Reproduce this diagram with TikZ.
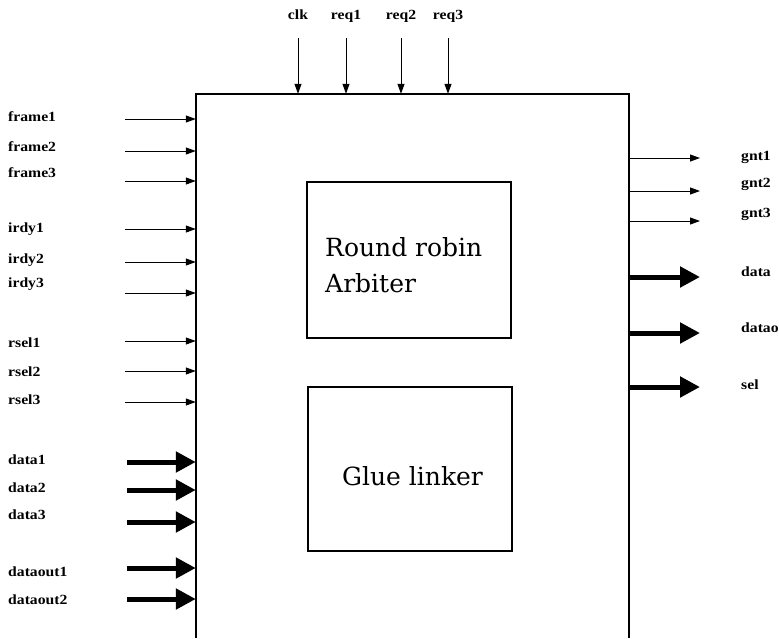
\documentclass[tikz,border=0pt]{standalone}
\usepackage{fontspec}
\setmainfont{Liberation Serif}
\newfontfamily\lblfont[FakeStretch=1.12, BoldFont={Liberation Serif Bold}, BoldFeatures={FakeStretch=1.12}]{Liberation Serif}
\newfontfamily\boxfont{DejaVu Serif}
\usetikzlibrary{arrows.meta}
\tikzset{
  lbl/.style={inner sep=0pt, font=\lblfont\bfseries\fontsize{14}{14}\selectfont},
  thinarrow/.style={line width=1pt, -{Triangle[length=10pt,width=7pt]}},
  thickarrow/.style={line width=5pt, -{Triangle[length=20pt,width=20pt]}},
  topbox/.style={line width=1.5pt},
  innerbox/.style={draw, line width=1.2pt, inner sep=0pt},
  boxtext/.style={inner sep=0pt, font=\boxfont\fontsize{25}{36}\selectfont}
}
\begin{document}
\begin{tikzpicture}[x=1pt,y=-1pt]
\useasboundingbox (0,0) rectangle (779,638);
% main block (open at the bottom)
\node[inner sep=0pt, minimum width=433, minimum height=544] (main) at (412.5,366) {};
\draw[topbox] (main.south west) -- (main.north west) -- (main.north east) -- (main.south east);
% inner blocks
\node[innerbox, minimum width=204, minimum height=156] (rrbox) at (409,260) {};
\node[innerbox, minimum width=204, minimum height=164] (glbox) at (410,469) {};
\node[boxtext, anchor=base west, align=left] (rrtext) at (325,292) {Round robin\\Arbiter};
\node[boxtext, anchor=base] (gltext) at (412.5,485) {Glue linker};
% top inputs
\foreach \n/\x in {clk/298, req1/346, req2/401, req3/448}{
  \node[lbl, anchor=base] (l\n) at (\x,19) {\n};
  \coordinate (t\n) at (\x,38);
  \draw[thinarrow] (t\n) -- (t\n |- main.north);
}
% left thin inputs
\foreach \n/\ly/\ay in {frame1/117/119, frame2/147/151, frame3/173/181,
                        irdy1/228/229, irdy2/259/262, irdy3/283/293,
                        rsel1/343/341, rsel2/372/371, rsel3/400/402}{
  \node[lbl, anchor=base west] (l\n) at (8,\ly+4.5) {\n};
  \coordinate (s\n) at (125,\ay);
  \draw[thinarrow] (s\n) -- (s\n -| main.west);
}
% left thick inputs
\foreach \n/\ly/\ay in {data1/460/462, data2/488/490, data3/515/522,
                        dataout1/572/568, dataout2/600/599}{
  \node[lbl, anchor=base west] (l\n) at (8,\ly+4.5) {\n};
  \coordinate (s\n) at (127,\ay);
  \draw[thickarrow] (s\n) -- (s\n -| main.west);
}
% right thin outputs
\foreach \n/\ly/\ay in {gnt1/157/158, gnt2/184/191, gnt3/214/221}{
  \node[lbl, anchor=base west] (l\n) at (741,\ly+3) {\n};
  \coordinate (e\n) at (700,\ay);
  \draw[thinarrow] (e\n -| main.east) -- (e\n);
}
% right thick outputs
\foreach \n/\ly/\ay in {data/272/277, datao/328/333, sel/385/387}{
  \node[lbl, anchor=base west] (l\n) at (741,\ly+4.5) {\n};
  \coordinate (e\n) at (700,\ay);
  \draw[thickarrow] (e\n -| main.east) -- (e\n);
}
\end{tikzpicture}
\end{document}
